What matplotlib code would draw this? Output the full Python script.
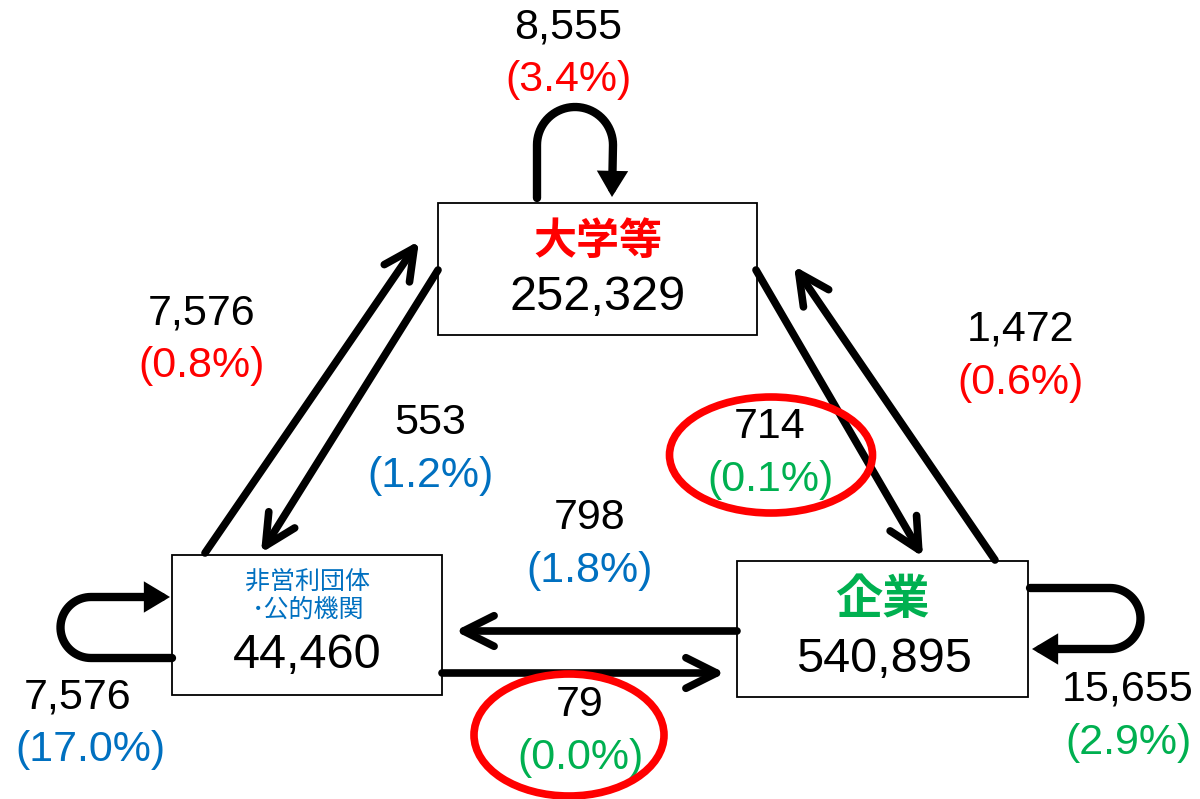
import matplotlib
matplotlib.use('AGG')
import matplotlib.pyplot as plt
from matplotlib.patches import Rectangle, Ellipse, FancyArrowPatch
from matplotlib.path import Path
import numpy as np

plt.rcParams['font.family'] = ['Liberation Sans', 'Noto Sans CJK JP', 'DejaVu Sans']

# sectors and their totals
nodes = ['大学等', '非営利団体\n･公的機関', '企業']
node_totals = [252329, 44460, 540895]
node_colors = ['#FF0000', '#0070C0', '#00B050']

# flows: (from, to, count, share %)  share is relative to the receiving sector
flow_src = [0, 1, 0, 2, 1, 2, 0, 1]
flow_dst = [0, 0, 1, 0, 2, 1, 2, 1]
flow_count = [8555, 7576, 553, 1472, 79, 798, 714, 7576]
flow_share = [3.4, 0.8, 1.2, 0.6, 0.0, 1.8, 0.1, 17.0]
loop_counts = {2: (15655, 2.9)}

RED, BLUE, GREEN = '#FF0000', '#0070C0', '#00B050'

fig = plt.figure(figsize=(12, 7.99), dpi=100)
ax = fig.add_axes([0, 0, 1, 1])
ax.set_xlim(0, 1200)
ax.set_ylim(799, 0)
ax.axis('off')

# boxes (x0, y0, x1, y1)
boxes = [(438, 203, 757, 335), (172, 555, 442, 695), (737, 561, 1028, 697)]
for (x0, y0, x1, y1) in boxes:
    ax.add_patch(Rectangle((x0, y0), x1 - x0, y1 - y0, fill=False,
                           edgecolor='black', lw=1.3, zorder=3))

# sector names
ax.text(598, 243, nodes[0], color=node_colors[0], fontsize=31, fontweight='bold',
        ha='center', va='center', zorder=4)
ax.text(307, 582, nodes[1].split('\n')[0], color=node_colors[1], fontsize=18,
        ha='center', va='center', zorder=4)
ax.text(308, 610, nodes[1].split('\n')[1], color=node_colors[1], fontsize=18,
        ha='center', va='center', zorder=4)
ax.text(882, 602, nodes[2], color=node_colors[2], fontsize=34, fontweight='bold',
        ha='center', va='center', zorder=4)

# sector totals
total_pos = [(598, 297), (307, 656), (884, 660)]
for (x, y), v in zip(total_pos, node_totals):
    ax.text(x, y, f'{v:,}', fontsize=35, ha='center', va='center', zorder=4)

# flow labels
label_pos = [(568, 27), (202, 313), (430, 423), (1020, 330),
             (580, 705), (590, 518), (770, 427), (78, 697)]
share_color = [node_colors[d] for d in flow_dst]
share_pos_x = [568, 202, 430, 1020, 580, 590, 770, 90]
for (x, y), c, p, col, sx in zip(label_pos, flow_count, flow_share, share_color, share_pos_x):
    ax.text(x, y, f'{c:,}', fontsize=31, ha='center', va='center', zorder=4)
    ax.text(sx, y + 53, f'({p:.1f}%)', fontsize=31, color=col,
            ha='center', va='center', zorder=4)

c, p = loop_counts[2]
ax.text(1128, 690, f'{c:,}', fontsize=31, ha='center', va='center', zorder=4)
ax.text(1128, 743, f'({p:.1f}%)', fontsize=31, color=GREEN,
        ha='center', va='center', zorder=4)

# straight arrows with open heads
open_arrows = [((205, 553), (419, 241)),
               ((438, 270), (261, 553)),
               ((756, 270), (923, 557)),
               ((995, 560), (794, 266)),
               ((737, 631), (455, 631)),
               ((442, 673), (725, 673))]
for a, b in open_arrows:
    ax.add_patch(FancyArrowPatch(a, b, arrowstyle='->,head_length=2.2,head_width=1.1',
                                 mutation_scale=10, lw=5.5, color='black',
                                 capstyle='round', joinstyle='round',
                                 shrinkA=0, shrinkB=0, zorder=2))


def loop_path(start, end, center, r, orient):
    """U-shaped path: straight leg, half circle, straight leg."""
    cx, cy = center
    if orient == 'up':
        t = np.linspace(np.pi, 0, 40)
        arc = np.column_stack([cx + r * np.cos(t), cy - r * np.sin(t)])
    elif orient == 'left':
        t = np.linspace(np.pi / 2, 3 * np.pi / 2, 40)
        arc = np.column_stack([cx + r * np.cos(t), cy + r * np.sin(t)])
    else:
        t = np.linspace(-np.pi / 2, np.pi / 2, 40)
        arc = np.column_stack([cx + r * np.cos(t), cy + r * np.sin(t)])
    verts = np.vstack([start, arc, end])
    codes = [Path.MOVETO] + [Path.LINETO] * (len(verts) - 1)
    return Path(verts, codes)


loops = [
    loop_path((537, 198), (612, 197), (575, 145), 38, 'up'),
    loop_path((172, 658), (170, 597), (91, 627.5), 30.5, 'left'),
    loop_path((1030, 588), (1032, 649), (1110, 618.5), 30.5, 'right'),
]
for pth in loops:
    ax.add_patch(FancyArrowPatch(path=pth, arrowstyle='-|>,head_length=1.0,head_width=0.6',
                                 mutation_scale=10, lw=6, color='black',
                                 joinstyle='miter', shrinkA=0, shrinkB=0, zorder=2))

# highlight the two smallest university/enterprise flows
ax.add_patch(Ellipse((771, 455), 203, 116, fill=False, edgecolor=RED, lw=5.5, zorder=5))
ax.add_patch(Ellipse((569, 735), 190, 122, fill=False, edgecolor=RED, lw=5.5, zorder=5))

plt.savefig('out.png', dpi=100)
